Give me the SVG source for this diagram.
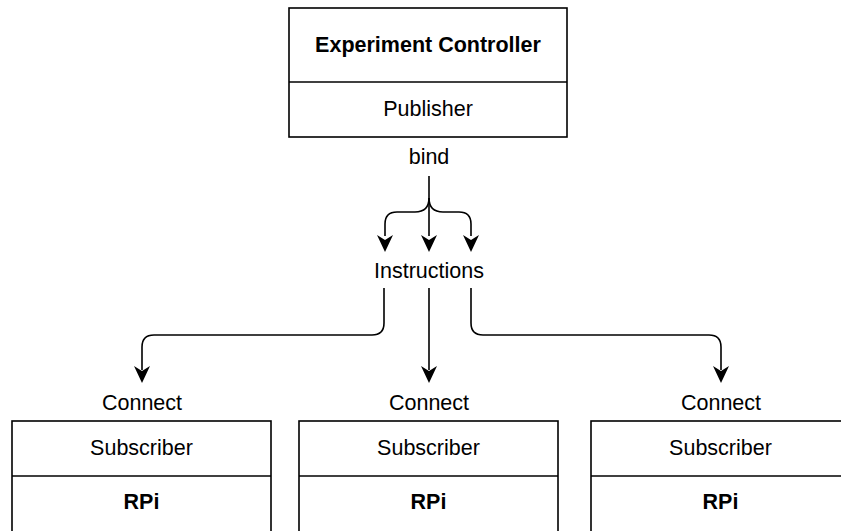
<svg xmlns="http://www.w3.org/2000/svg" width="841" height="531" viewBox="0 0 841 531">
<defs>
<style>
.box{fill:#fff;stroke:#000;stroke-width:1.6}
.div{stroke:#000;stroke-width:1.6}
.t{font-family:"Liberation Sans",Arial,Helvetica,sans-serif;font-size:21.5px;fill:#000;text-anchor:middle}
.b{font-weight:bold}
.c{fill:none;stroke:#000;stroke-width:1.6}
</style>
</defs>
<rect width="841" height="531" fill="#fff"/>
<g id="controller">
<rect class="box" x="289" y="8" width="278" height="129"/>
<line class="div" x1="289" y1="82" x2="567" y2="82"/>
<text class="t b" x="428" y="52">Experiment Controller</text>
<text class="t" x="428" y="116">Publisher</text>
</g>
<g id="rpi1">
<rect class="box" x="12" y="421" width="259" height="130"/>
<line class="div" x1="12" y1="476" x2="271" y2="476"/>
<text class="t" x="141.5" y="455">Subscriber</text>
<text class="t b" x="141.5" y="509">RPi</text>
</g>
<g id="rpi2">
<rect class="box" x="299" y="421" width="259" height="130"/>
<line class="div" x1="299" y1="476" x2="558" y2="476"/>
<text class="t" x="428.5" y="455">Subscriber</text>
<text class="t b" x="428.5" y="509">RPi</text>
</g>
<g id="rpi3">
<rect class="box" x="591" y="421" width="259" height="130"/>
<line class="div" x1="591" y1="476" x2="850" y2="476"/>
<text class="t" x="720.5" y="455">Subscriber</text>
<text class="t b" x="720.5" y="509">RPi</text>
</g>
<g id="labels">
<text class="t" x="429" y="164">bind</text>
<text class="t" x="429" y="278">Instructions</text>
<text class="t" x="142" y="410">Connect</text>
<text class="t" x="429" y="410">Connect</text>
<text class="t" x="721" y="410">Connect</text>
</g>
<g id="connectors">
<path class="c" d="M429 176 L429 236"/>
<path class="c" d="M429 198 Q429 212 415 212 L397 212 Q385 212 385 224 L385 236"/>
<path class="c" d="M429 198 Q429 212 443 212 L459 212 Q471 212 471 224 L471 236"/>
<path class="c" d="M384 288 L384 323 Q384 335 372 335 L154 335 Q142 335 142 347 L142 370"/>
<path class="c" d="M429 288 L429 370"/>
<path class="c" d="M471 288 L471 323 Q471 335 483 335 L709 335 Q721 335 721 347 L721 370"/>
<path d="M385 252 L377 235 L385 240 L393 235 Z"/>
<path d="M429 252 L421 235 L429 240 L437 235 Z"/>
<path d="M471 252 L463 235 L471 240 L479 235 Z"/>
<path d="M142 383 L134 366 L142 371 L150 366 Z"/>
<path d="M429 383 L421 366 L429 371 L437 366 Z"/>
<path d="M721 383 L713 366 L721 371 L729 366 Z"/>
</g>
</svg>
